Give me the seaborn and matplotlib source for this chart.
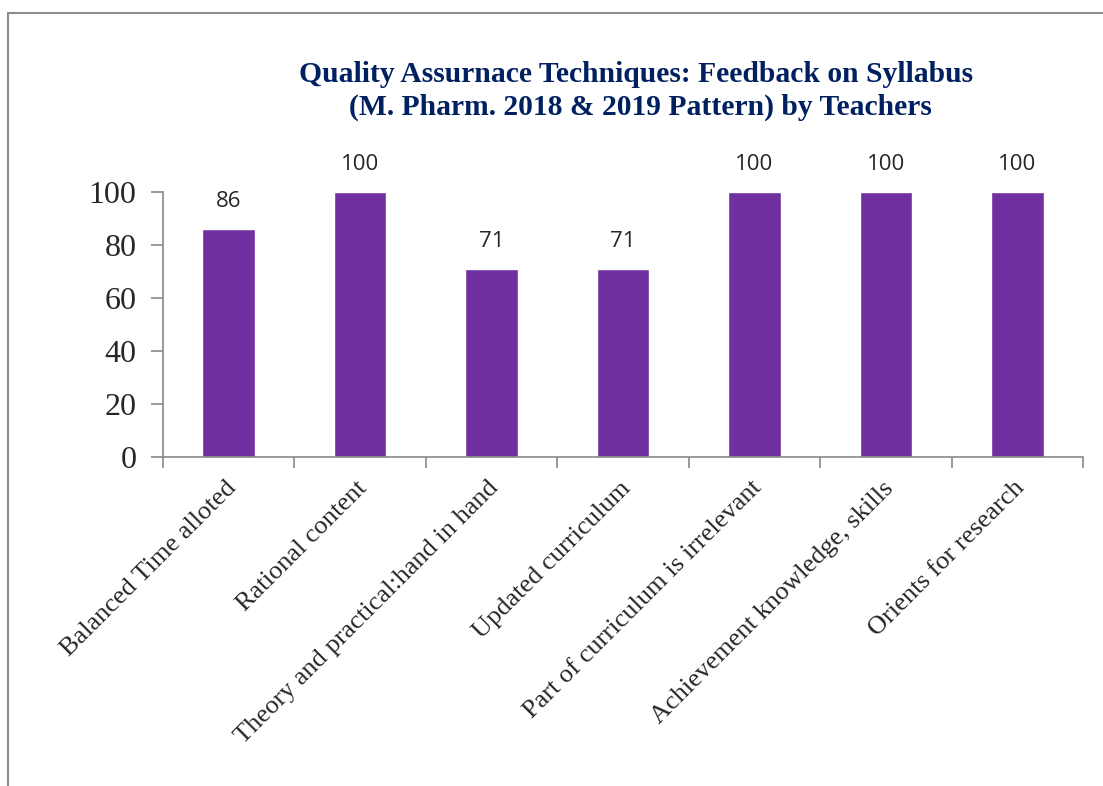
import matplotlib
matplotlib.use("Agg")
import matplotlib.pyplot as plt
import seaborn as sns
import pandas as pd
from matplotlib.lines import Line2D

categories = ["Balanced Time alloted", "Rational content", "Theory and practical:hand in hand",
              "Updated curriculum", "Part of curriculum is irrelevant",
              "Achievement knowledge, skills", "Orients for research"]
values = [86, 100, 71, 71, 100, 100, 100]
yticks = [0, 20, 40, 60, 80, 100]

df = pd.DataFrame({"cat": categories, "val": values})

sns.set_style("white")
plt.rcParams['font.family'] = ['Liberation Serif', 'DejaVu Serif']

fig = plt.figure(figsize=(11.03, 7.86), dpi=100)
ax = fig.add_axes([163/1103, 1-457/786, (1083-163)/1103, (457-192)/786])

sns.barplot(data=df, x="cat", y="val", color="#7030A0", width=0.4, ax=ax, saturation=1)
ax.set_xlim(-0.5, len(categories)-0.5)
ax.set_ylim(0, 100)
ax.set_yticks(yticks)
ax.set_yticklabels([str(t) for t in yticks], fontsize=23, family='Liberation Serif')
ax.set_xlabel("")
ax.set_ylabel("")

for s in ["top", "right"]:
    ax.spines[s].set_visible(False)
for s in ["left", "bottom"]:
    ax.spines[s].set_color("#898989")
    ax.spines[s].set_linewidth(1.2)

ax.tick_params(axis='y', direction='out', length=9, width=1.2, color="#898989", left=True, pad=10)
ax.set_xticks([i - 0.5 for i in range(len(categories) + 1)], minor=False)
ax.set_xticklabels([""] * (len(categories) + 1))
ax.tick_params(axis='x', direction='out', length=8, width=1.2, color="#898989", bottom=True)

for i, (c, v) in enumerate(zip(categories, values)):
    ax.text(i + 0.03, -10.5, c, rotation=45, ha='right', va='center', rotation_mode='anchor',
            fontsize=19, family='Liberation Serif', transform=ax.transData, clip_on=False)
    ax.text(i, v + 6.5, str(v), ha='center', va='bottom', fontsize=16,
            family=['Open Sans', 'DejaVu Sans'])

fig.text(636/1103, 1-75/786, "Quality Assurnace Techniques: Feedback on Syllabus",
         ha='center', va='center', fontsize=21.3, fontweight='bold', color="#002060")
fig.text(640/1103, 1-107/786, "(M. Pharm. 2018 & 2019 Pattern) by Teachers",
         ha='center', va='center', fontsize=21.3, fontweight='bold', color="#002060")

# figure frame (left and top edges)
fig.add_artist(Line2D([8/1103, 8/1103], [0, 1-13/786], color="#8c8c8c", lw=1.5, transform=fig.transFigure))
fig.add_artist(Line2D([8/1103, 1], [1-13/786, 1-13/786], color="#8c8c8c", lw=1.5, transform=fig.transFigure))

fig.savefig("out.png", dpi=100)
